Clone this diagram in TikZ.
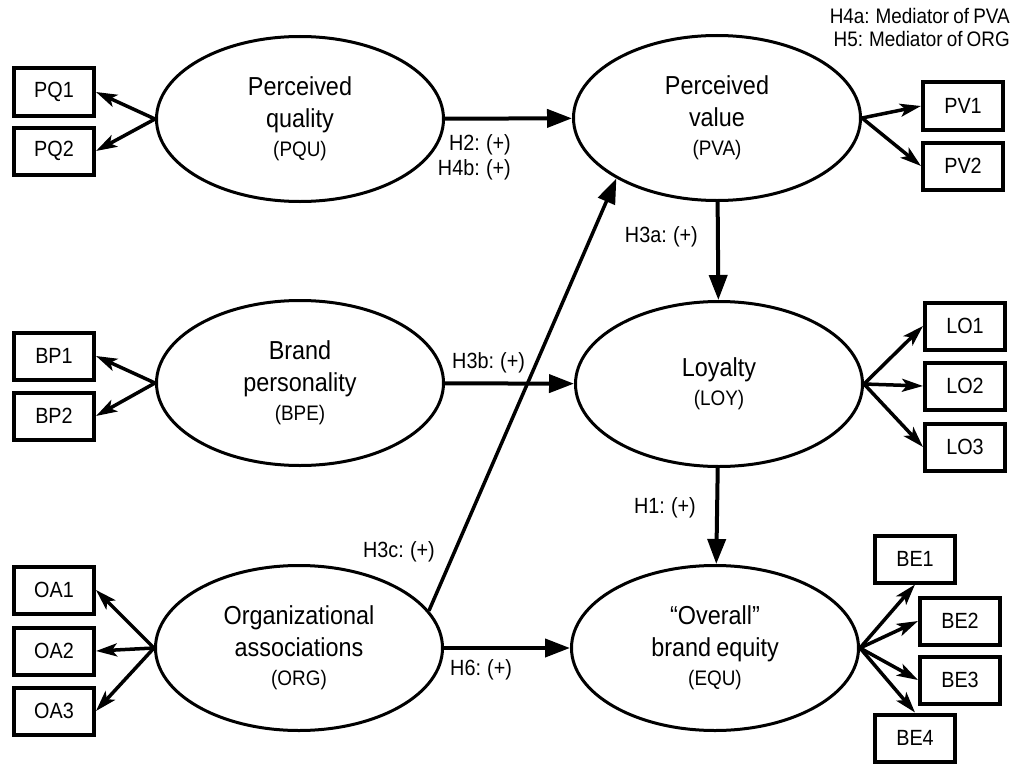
\documentclass[tikz,border=0pt]{standalone}
\usepackage{fontspec}
\setmainfont{Liberation Sans}[FakeStretch=0.9, WordSpace=0.8]
\usetikzlibrary{shapes.geometric,arrows.meta}
\newcommand{\latentVar}[5]{%
  \node[latent] (#1) at (#2, #3)
    {#4\\[-3bp]{\fontsize{21bp}{25bp}\selectfont (#5)}};%
}
\newcommand{\indicatorBox}[3]{%
  \node[manifest] (#1) at (#2, #3) {#1};%
}
\tikzset{
  latent/.style={ellipse, draw, line width=3bp, minimum width=287bp,
    minimum height=165bp, inner sep=0pt, align=center,
    font=\fontsize{26bp}{32bp}\selectfont},
  manifest/.style={rectangle, draw, line width=4bp, minimum width=80bp,
    minimum height=47bp, inner sep=0pt, font=\fontsize{22bp}{26bp}\selectfont},
  hlabel/.style={inner sep=0pt, font=\fontsize{22bp}{25bp}\selectfont},
  structural/.style={line width=4bp, -{Triangle[length=25bp,width=18bp]}},
  loading/.style={line width=3.5bp, -{Stealth[length=21bp,width=13bp,inset=5bp]}}
}

\begin{document}
\begin{tikzpicture}[x=1bp, y=-1bp]
  \useasboundingbox (0,0) rectangle (1015,764);

  % Create constructs using \latentVar
  \latentVar{PQU}{300}{119}{Perceived\\quality}{PQU}
  \latentVar{BPE}{300}{383}{Brand\\personality}{BPE}
  \latentVar{ORG}{299}{648}{Organizational\\associations}{ORG}
  \latentVar{PVA}{717}{118}{Perceived\\value}{PVA}
  \latentVar{LOY}{719}{384}{Loyalty}{LOY}
  \latentVar{EQU}{715}{648}{“Overall”\\brand equity}{EQU}

  % Create indicators using \indicatorBox
  \indicatorBox{PQ1}{54}{92}
  \indicatorBox{PQ2}{54}{151}
  \indicatorBox{BP1}{54}{356}
  \indicatorBox{BP2}{54}{416}
  \indicatorBox{OA1}{54}{590}
  \indicatorBox{OA2}{54}{651}
  \indicatorBox{OA3}{54}{711}
  \indicatorBox{PV1}{963}{106}
  \indicatorBox{PV2}{963}{166}
  \indicatorBox{LO1}{965}{326}
  \indicatorBox{LO2}{965}{386}
  \indicatorBox{LO3}{965}{447}
  \indicatorBox{BE1}{915}{559}
  \indicatorBox{BE2}{960}{621}
  \indicatorBox{BE3}{960}{680}
  \indicatorBox{BE4}{915}{738}

  % Loadings
  \draw[loading] (PQU.west) -- (PQ1.east);
  \draw[loading] (PQU.west) -- (PQ2.east);
  \draw[loading] (BPE.west) -- (BP1.east);
  \draw[loading] (BPE.west) -- (BP2.east);
  \draw[loading] (ORG.west) -- (OA1.east);
  \draw[loading] (ORG.west) -- (OA2.east);
  \draw[loading] (ORG.west) -- (OA3.east);
  \draw[loading] (PVA.east) -- (PV1.west);
  \draw[loading] (PVA.east) -- (PV2.west);
  \draw[loading] (LOY.east) -- (LO1.west);
  \draw[loading] (LOY.east) -- (LO2.west);
  \draw[loading] (LOY.east) -- (LO3.west);
  \draw[loading] (EQU.east) -- (BE1.south);
  \draw[loading] (EQU.east) -- (BE2.west);
  \draw[loading] (EQU.east) -- (BE3.west);
  \draw[loading] (EQU.east) -- (BE4.north);

  % Hypothesised paths
  \draw[structural] (PQU) -- (PVA);
  \draw[structural] (PVA) -- (LOY);
  \draw[structural] (BPE) -- (LOY);
  \draw[structural] (LOY) -- (EQU);
  \draw[structural] (ORG) -- (EQU);
  \draw[structural, line width=3.5bp] (ORG.16) -- (PVA.211);

  % Path labels
  \node[hlabel, anchor=east, align=right] (h2) at (511,157) {H2: (+)\\H4b: (+)};
  \node[hlabel, anchor=east] (h3a) at (698,237) {H3a: (+)};
  \node[hlabel, anchor=west] (h3b) at (452,363) {H3b: (+)};
  \node[hlabel, anchor=east] (h1) at (696,508) {H1: (+)};
  \node[hlabel, anchor=east] (h3c) at (435,552) {H3c: (+)};
  \node[hlabel, anchor=west] (h6) at (450,670) {H6: (+)};
  \node[hlabel, anchor=east, align=right, font=\fontsize{21bp}{23bp}\selectfont]
    (h4a) at (1010,27) {H4a: Mediator of PVA\\H5: Mediator of ORG};
\end{tikzpicture}
\end{document}
